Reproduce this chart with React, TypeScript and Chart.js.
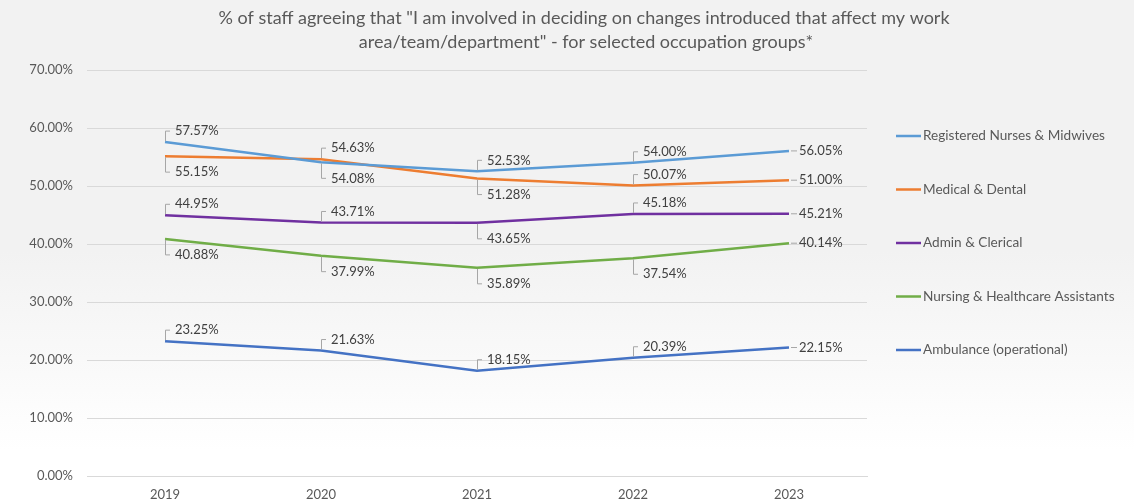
import React, { useEffect, useRef } from "react";
import { Chart, registerables } from "chart.js";

Chart.register(...registerables);

const years = ["2019", "2020", "2021", "2022", "2023"];
const seriesNames = [
  "Registered Nurses & Midwives",
  "Medical & Dental",
  "Admin & Clerical",
  "Nursing & Healthcare Assistants",
  "Ambulance (operational)",
];
const nurses = [57.57, 54.08, 52.53, 54.0, 56.05];
const medical = [55.15, 54.63, 51.28, 50.07, 51.0];
const admin = [44.95, 43.71, 43.65, 45.18, 45.21];
const hca = [40.88, 37.99, 35.89, 37.54, 40.14];
const ambulance = [23.25, 21.63, 18.15, 20.39, 22.15];
const seriesValues = [nurses, medical, admin, hca, ambulance];
const seriesColors = ["#5b9bd5", "#ed7d31", "#7030a0", "#70ad47", "#4472c4"];
const labelSides = [
  ["above", "below", "above", "above", "right"],
  ["below", "above", "below", "above", "right"],
  ["above", "above", "below", "above", "right"],
  ["below", "below", "below", "below", "right"],
  ["above", "above", "above", "above", "right"],
];
const titleLines = [
  '% of staff agreeing that "I am involved in deciding on changes introduced that affect my work',
  'area/team/department" - for selected occupation groups*',
];

const FONT = "Lato, 'Open Sans', sans-serif";

const bgPlugin = {
  id: "bg",
  beforeDraw(chart: any) {
    const { ctx, width, height } = chart;
    ctx.save();
    const g = ctx.createLinearGradient(0, 0, 0, height);
    g.addColorStop(0, "#f2f2f2");
    g.addColorStop(0.5, "#f2f2f2");
    g.addColorStop(0.9, "#ffffff");
    g.addColorStop(1, "#ffffff");
    ctx.fillStyle = g;
    ctx.fillRect(0, 0, width, height);
    ctx.restore();
  },
};

const decorPlugin = {
  id: "decor",
  afterDatasetsDraw(chart: any) {
    const { ctx } = chart;
    ctx.save();
    // data labels
    ctx.font = `13px ${FONT}`;
    ctx.textBaseline = "middle";
    ctx.textAlign = "left";
    chart.data.datasets.forEach((ds: any, di: number) => {
      const meta = chart.getDatasetMeta(di);
      meta.data.forEach((pt: any, i: number) => {
        const x = pt.x;
        const y = pt.y;
        const side = labelSides[di][i];
        const txt = ds.data[i].toFixed(2) + "%";
        ctx.strokeStyle = "#a6a6a6";
        ctx.lineWidth = 1;
        ctx.beginPath();
        let tx = x + 10;
        let ty = y;
        if (side === "right") {
          ctx.moveTo(x + 2, y);
          ctx.lineTo(x + 8, y);
          tx = x + 10;
        } else {
          ty = side === "above" ? y - 11 : y + 16;
          ctx.moveTo(x + 0.5, y + (side === "above" ? -1 : 1));
          ctx.lineTo(x + 0.5, ty);
          ctx.lineTo(x + 5, ty);
        }
        ctx.stroke();
        ctx.fillStyle = "#404040";
        ctx.fillText(txt, tx, ty);
      });
    });
    // title
    ctx.fillStyle = "#595959";
    ctx.font = `18px ${FONT}`;
    ctx.textAlign = "center";
    ctx.fillText(titleLines[0], 584, 18);
    ctx.fillText(titleLines[1], 586, 42);
    // legend
    ctx.font = `13.6px ${FONT}`;
    ctx.textAlign = "left";
    seriesNames.forEach((name, i) => {
      const ly = 136 + i * 53.5;
      ctx.strokeStyle = seriesColors[i];
      ctx.lineWidth = 2.5;
      ctx.beginPath();
      ctx.moveTo(896, ly);
      ctx.lineTo(921, ly);
      ctx.stroke();
      ctx.fillStyle = "#595959";
      ctx.fillText(name, 923, ly);
    });
    ctx.restore();
  },
};

export default function App() {
  const ref = useRef<HTMLCanvasElement>(null);
  useEffect(() => {
    document.body.style.margin = "0";
    const chart = new Chart(ref.current!, {
      type: "line",
      data: {
        labels: years,
        datasets: seriesValues.map((vals, i) => ({
          label: seriesNames[i],
          data: vals,
          borderColor: seriesColors[i],
          backgroundColor: seriesColors[i],
          borderWidth: 2.5,
          pointRadius: 0,
          tension: 0,
        })),
      },
      options: {
        animation: false,
        responsive: false,
        layout: { padding: { left: 7, right: 267, top: 70, bottom: 0 } },
        plugins: { legend: { display: false }, title: { display: false }, tooltip: { enabled: false } },
        scales: {
          x: {
            offset: true,
            grid: { display: false, drawTicks: false },
            border: { display: true, color: "#d9d9d9" },
            ticks: { color: "#595959", font: { family: FONT, size: 13 }, padding: 11 },
            afterFit: (s: any) => { s.height = 25; },
          },
          y: {
            min: 0,
            max: 70,
            grid: { color: "#d9d9d9", drawTicks: false },
            border: { display: false },
            ticks: {
              stepSize: 10,
              color: "#595959",
              font: { family: FONT, size: 13 },
              padding: 14,
              callback: (v: any) => Number(v).toFixed(2) + "%",
            },
            afterFit: (s: any) => { s.width = 80; },
          },
        },
      },
      plugins: [bgPlugin, decorPlugin],
    });
    return () => chart.destroy();
  }, []);
  return <canvas ref={ref} width={1134} height={501} style={{ display: "block" }} />;
}
